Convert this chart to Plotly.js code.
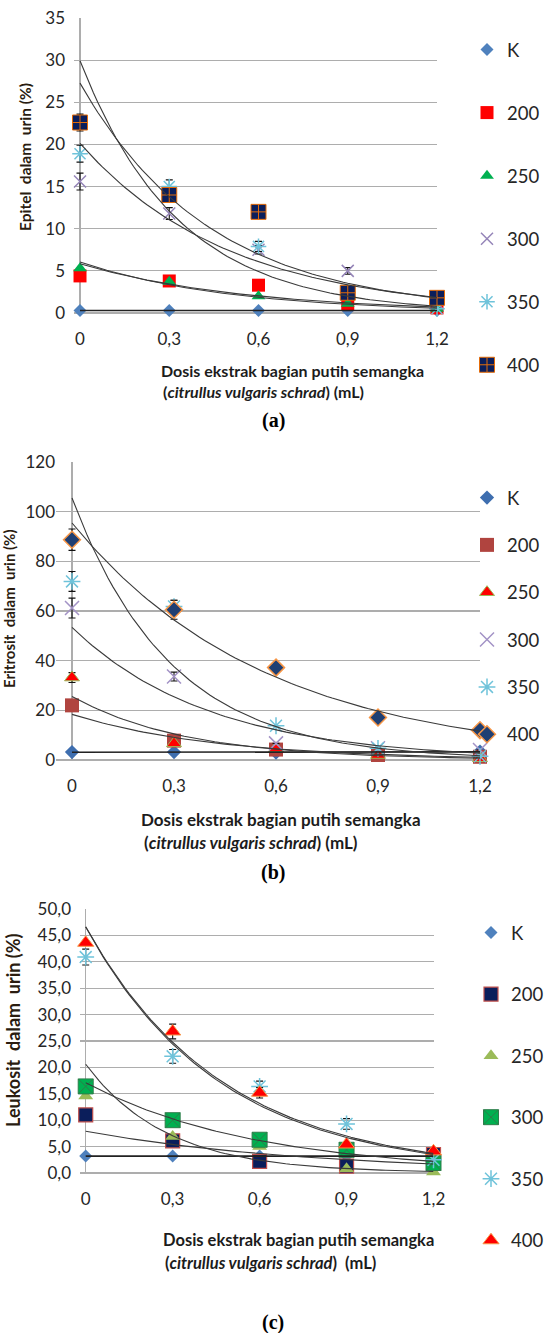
<!DOCTYPE html>
<html>
<head>
<meta charset="utf-8">
<script src="https://cdn.plot.ly/plotly-3.0.1.min.js"></script>
<style>html,body{margin:0;padding:0;background:#fff;}#chart{width:549px;height:1333px;}</style>
</head>
<body>
<div id="chart"></div>
<script>
// ---------- data ----------
const doses = [0, 0.3, 0.6, 0.9, 1.2];
const doseTickText = ['0', '0,3', '0,6', '0,9', '1,2'];
const seriesNames = ['K', '200', '250', '300', '350', '400'];

// (a) Epitel dalam urin (%)
const epitelK   = [0.3, 0.3, 0.3, 0.3, 0.3];
const epitel200 = [4.4, 3.8, 3.3, 1.0, 0.6];
const epitel250 = [5.3, 3.7, 2.0, 1.1, 0.5];
const epitel300 = [15.6, 11.8, 7.5, 5.0, 1.2];
const epitel350 = [18.9, 15.0, 7.9, 2.5, 0.5];
const epitel400 = [22.6, 14.0, 12.0, 2.4, 1.8];
const epitelErr300 = [1.0, 0.7, 0.5, 0.4, 0];
const epitelErr350 = [1.0, 0.8, 0.6, 0, 0];
const epitelErr400 = [1.0, 0, 0, 0, 0];

// (b) Eritrosit dalam urin (%)
const eritK   = [3.2, 3.2, 3.0, 3.2, 3.4];
const erit200 = [22.0, 7.8, 4.2, 2.0, 1.3];
const erit250 = [33.2, 6.7, 4.7, 2.0, 0.7];
const erit300 = [61.2, 33.6, 6.7, 4.7, 4.0];
const erit350 = [71.9, 61.8, 13.8, 4.7, 1.5];
const erit400 = [88.7, 60.5, 37.2, 17.1, 12.0];
const eritErr250 = [2.0, 0, 0, 0, 0];
const eritErr300 = [4.0, 1.8, 0, 0, 0];
const eritErr350 = [4.0, 2.5, 0, 0, 0];
const eritErr400 = [4.3, 3.8, 0, 0, 0];

// (c) Leukosit dalam urin (%)
const leukK   = [3.2, 3.2, 3.2, 3.2, 3.2];
const leuk200 = [11.0, 6.1, 2.2, 1.3, 3.5];
const leuk250 = [14.6, 6.9, 5.0, 0.8, 0.2];
const leuk300 = [16.4, 10.0, 6.3, 4.4, 1.9];
const leuk350 = [40.9, 22.1, 16.4, 9.3, 2.5];
const leuk400 = [43.6, 26.8, 15.2, 5.4, 4.1];
const leukErr350 = [1.5, 1.3, 1.0, 1.0, 0];
const leukErr400 = [0, 1.4, 1.0, 0, 0];

const zeros = [0, 0, 0, 0, 0];

// ---------- styles ----------
const stylesA = [
  {symbol: 'diamond', size: 10, color: '#4F81BD'},
  {symbol: 'square', size: 13, color: '#FF0000'},
  {symbol: 'triangle-up', size: 12, color: '#00B050'},
  {symbol: 'x-thin-open', size: 12, color: '#9585B8', line: {color: '#9585B8', width: 1.5}},
  {symbol: 'asterisk-open', size: 13, color: '#6FC3DA', line: {color: '#6FC3DA', width: 1.5}},
  {symbol: 'square-cross', size: 15, color: '#0B1E5B', line: {color: '#E46C0A', width: 1}}
];
const stylesB = [
  {symbol: 'diamond', size: 11, color: '#3E6EAF'},
  {symbol: 'square', size: 14, color: '#B0443F'},
  {symbol: 'triangle-up', size: 13, color: '#FF0000', line: {color: '#9BBB59', width: 1}},
  {symbol: 'x-thin-open', size: 14, color: '#A393C6', line: {color: '#A393C6', width: 1.5}},
  {symbol: 'asterisk-open', size: 14, color: '#6FC3DA', line: {color: '#6FC3DA', width: 1.5}},
  {symbol: 'diamond', size: 13, color: '#1F3F73', line: {color: '#F79646', width: 1.5}}
];
const stylesC = [
  {symbol: 'diamond', size: 10, color: '#4F81BD'},
  {symbol: 'square', size: 14, color: '#0B1E5B', line: {color: '#C0504D', width: 1.2}},
  {symbol: 'triangle-up', size: 13, color: '#9BBB59'},
  {symbol: 'square-x', size: 15, color: '#00B050', line: {color: '#2E7D4A', width: 1}},
  {symbol: 'asterisk-open', size: 14, color: '#6FC3DA', line: {color: '#6FC3DA', width: 1.5}},
  {symbol: 'triangle-up', size: 14, color: '#FF0000', line: {color: '#F79646', width: 1}}
];

// Excel-like exponential trendline (least squares on ln y)
function expFit(xs, ys) {
  const n = xs.length;
  let sx = 0, sy = 0, sxx = 0, sxy = 0;
  for (let i = 0; i < n; i++) {
    const ly = Math.log(ys[i]);
    sx += xs[i]; sy += ly; sxx += xs[i] * xs[i]; sxy += xs[i] * ly;
  }
  const b = (n * sxy - sx * sy) / (n * sxx - sx * sx);
  const a = Math.exp((sy - b * sx) / n);
  const cx = [], cy = [];
  const x0 = xs[0], x1 = xs[n - 1];
  for (let i = 0; i <= 80; i++) {
    const x = x0 + (x1 - x0) * i / 80;
    cx.push(x); cy.push(a * Math.exp(b * x));
  }
  return {x: cx, y: cy};
}

const panels = [
  {ys: [epitelK, epitel200, epitel250, epitel300, epitel350, epitel400],
   errs: [zeros, zeros, zeros, epitelErr300, epitelErr350, epitelErr400],
   styles: stylesA, xa: 'x', ya: 'y', legend: 'legend'},
  {ys: [eritK, erit200, erit250, erit300, erit350, erit400],
   errs: [zeros, zeros, eritErr250, eritErr300, eritErr350, eritErr400],
   styles: stylesB, xa: 'x2', ya: 'y2', legend: 'legend2'},
  {ys: [leukK, leuk200, leuk250, leuk300, leuk350, leuk400],
   errs: [zeros, zeros, zeros, zeros, leukErr350, leukErr400],
   styles: stylesC, xa: 'x3', ya: 'y3', legend: 'legend3'}
];

const traces = [];
panels.forEach((p, pi) => {
  p.ys.forEach((ys, si) => {
    const st = p.styles[si];
    const marker = {symbol: st.symbol, size: st.size, color: st.color};
    marker.line = st.line ? st.line : {width: 0};
    traces.push({
      type: 'scatter', mode: 'markers', x: doses, y: ys,
      name: seriesNames[si], xaxis: p.xa, yaxis: p.ya,
      legend: p.legend, legendgroup: 'g' + pi + '_' + si,
      marker: marker, cliponaxis: false,
      error_y: {type: 'data', array: p.errs[si], visible: true, color: '#111', thickness: 1.1, width: 3.5},
      hoverinfo: 'x+y'
    });
  });
  p.ys.forEach((ys, si) => {
    const f = expFit(doses, ys);
    traces.push({
      type: 'scatter', mode: 'lines', x: f.x, y: f.y,
      xaxis: p.xa, yaxis: p.ya, showlegend: false, cliponaxis: false,
      line: {color: si === 0 ? '#222' : '#3a3a3a', width: si === 0 ? 1.6 : 1.1},
      hoverinfo: 'skip'
    });
  });
});

const W = 549, H = 1333;
const px = v => v / W;
const py = v => 1 - v / H;
const tickFont = {family: 'Lato, "Open Sans", sans-serif', size: 17, color: '#262626'};
const gridCol = '#ADADAD';

function xAxis(d0, d1, rStart, anchor) {
  return {
    domain: [px(d0), px(d1)], range: [rStart, 1.2], anchor: anchor,
    showgrid: false, zeroline: true, zerolinecolor: gridCol, zerolinewidth: 1.2,
    showline: false, ticks: '', tickvals: doses, ticktext: doseTickText,
    tickfont: tickFont, ticklabelstandoff: 14, fixedrange: true
  };
}
function yAxis(top, bottom, maxV, dtick, fmt, standoff, anchor) {
  return {
    domain: [py(bottom), py(top)], range: [0, maxV], anchor: anchor,
    showgrid: true, gridcolor: gridCol, gridwidth: 1.2,
    zeroline: true, zerolinecolor: gridCol, zerolinewidth: 1.2,
    showline: false, ticks: '', dtick: dtick, tick0: 0, tickformat: fmt,
    tickfont: tickFont, ticklabelstandoff: standoff, fixedrange: true
  };
}

const titleFont = (s) => ({family: 'Lato, "Open Sans", sans-serif', size: s, color: '#1c1c1c'});
const yTitleFont = (s) => ({family: 'Lato, "Open Sans", sans-serif', size: s, color: '#2a1c10'});
const capFont = {family: '"Liberation Serif", "Times New Roman", serif', size: 20, color: '#000'};

function ann(text, x, y, font, angle) {
  const a = {text: text, xref: 'paper', yref: 'paper', x: px(x), y: py(y),
    xanchor: 'center', yanchor: 'middle', showarrow: false, font: font};
  if (angle) a.textangle = angle;
  return a;
}

const annotations = [
  ann('<b>Epitel  dalam  urin (%)</b>', 25, 157, yTitleFont(15.5), -90),
  ann('<b>Dosis ekstrak bagian putih semangka</b>', 292, 370, titleFont(16)),
  ann('<b>(<i>citrullus vulgaris schrad</i>) (mL)</b>', 263, 392, titleFont(16)),
  ann('<b>(a)</b>', 273, 420, capFont),
  ann('<b>Eritrosit  dalam  urin (%)</b>', 9, 609, yTitleFont(15), -90),
  ann('<b>Dosis ekstrak bagian putih semangka</b>', 281, 819, titleFont(17)),
  ann('<b>(<i>citrullus vulgaris schrad</i>) (mL)</b>', 251, 842, titleFont(17)),
  ann('<b>(b)</b>', 273, 872, capFont),
  ann('<b>Leukosit  dalam  urin (%)</b>', 13, 1030, yTitleFont(18), -90),
  ann('<b>Dosis ekstrak bagian putih semangka</b>', 298, 1240, titleFont(16.5)),
  ann('<b>(<i>citrullus vulgaris schrad</i>)  (mL)</b>', 270, 1263, titleFont(16.5)),
  ann('<b>(c)</b>', 273, 1322, capFont)
];

const legFont = {family: 'Lato, "Open Sans", sans-serif', size: 18.5, color: '#262626'};
function legend(x, y, gap) {
  return {x: px(x), y: py(y), xanchor: 'left', yanchor: 'top', orientation: 'v',
    font: legFont, tracegroupgap: gap, bgcolor: 'rgba(0,0,0,0)', borderwidth: 0,
    itemclick: false, itemdoubleclick: false};
}

const layout = {
  width: W, height: H, margin: {l: 0, r: 0, t: 0, b: 0},
  paper_bgcolor: '#fff', plot_bgcolor: '#fff', showlegend: true,
  separators: ',.',
  xaxis: xAxis(74, 437, -0.0202, 'y'),
  yaxis: yAxis(18, 313, 35, 5, 'd', 8, 'x'),
  xaxis2: xAxis(56, 480, -0.0471, 'y2'),
  yaxis2: yAxis(462, 760, 120, 20, 'd', 0, 'x2'),
  xaxis3: xAxis(80, 433.5, -0.0197, 'y3'),
  yaxis3: yAxis(909, 1173, 50, 5, '.1f', 8, 'x3'),
  legend: legend(467, 31, 36),
  legend2: legend(467, 479, 20.3),
  legend3: legend(471, 914, 34.5),
  annotations: annotations
};

Plotly.newPlot('chart', traces, layout, {displayModeBar: false, staticPlot: true});
</script>
</body>
</html>
